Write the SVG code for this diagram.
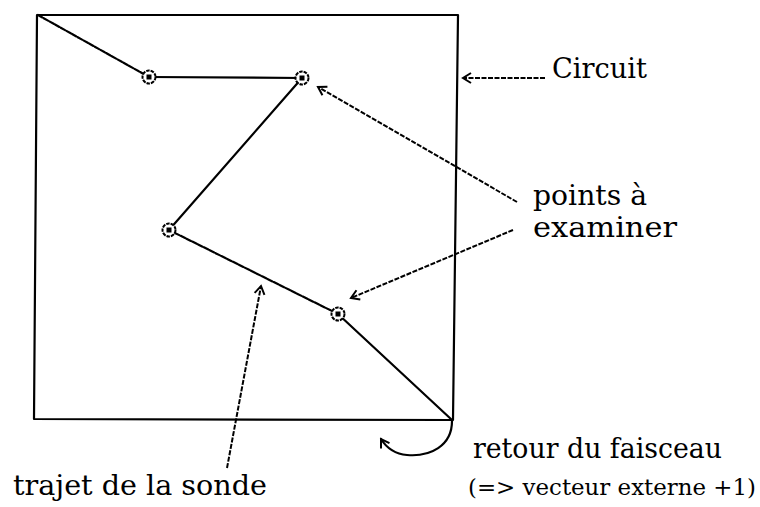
<svg xmlns="http://www.w3.org/2000/svg" width="760" height="507" viewBox="0 0 760 507">
<style>
.ln{fill:none;stroke:#000;stroke-width:2.2;stroke-linecap:round;stroke-linejoin:round}
.dsh{stroke-dasharray:5 1.5}
.arr{fill:none;stroke:#000;stroke-width:2;stroke-dasharray:5 1.5;marker-end:url(#ah)}
.t{font-family:"DejaVu Serif","Liberation Serif",serif;font-size:27px;fill:#000}
.ring{fill:#fff;stroke:#000;stroke-width:2;stroke-dasharray:3.5 1}
</style>
<defs>
<marker id="ah" markerUnits="userSpaceOnUse" markerWidth="16" markerHeight="16" refX="0" refY="0" viewBox="-10 -8 12 16" orient="auto" overflow="visible">
<path d="M-8,-5 L0,0 L-8,5" fill="none" stroke="#000" stroke-width="2"/>
</marker>
</defs>
<g id="circuit">
<path class="ln" d="M37,15 L458,15 L453,420 L34,419 Z"/>
</g>
<g id="connectors">
<path class="ln dsh" d="M38,15 L149,77"/>
<path class="ln" d="M149,77 L302,78"/>
<path class="ln" d="M302,78 L169,230"/>
<path class="ln dsh" d="M169,230 L338,314"/>
<path class="ln" d="M338,314 L452,420"/>
<path class="arr" d="M545,78 L463,78"/>
<path class="arr" d="M517,202 L318,87"/>
<path class="arr" d="M513,230 L351,298"/>
<path class="arr" d="M227,468 L261,286"/>
<path class="ln" marker-end="url(#ah)" d="M452,421 C452,446 430,457 407,455 C395,454 386,447 381,439"/>
</g>
<g id="n1"><circle class="ring" cx="149" cy="77" r="6.5"/><rect x="146.5" y="74.5" width="5" height="5"/></g>
<g id="n2"><circle class="ring" cx="302" cy="78" r="6.5"/><rect x="299.5" y="75.5" width="5" height="5"/></g>
<g id="n3"><circle class="ring" cx="169" cy="230" r="6.5"/><rect x="166.5" y="227.5" width="5" height="5"/></g>
<g id="n4"><circle class="ring" cx="338" cy="314" r="6.5"/><rect x="335.5" y="311.5" width="5" height="5"/></g>
<g id="labels">
<text class="t" x="552" y="78" textLength="95" lengthAdjust="spacingAndGlyphs">Circuit</text>
<text class="t" x="533" y="205" textLength="114" lengthAdjust="spacingAndGlyphs">points à</text>
<text class="t" x="533" y="237" textLength="144" lengthAdjust="spacingAndGlyphs">examiner</text>
<text class="t" x="13" y="495" textLength="254" lengthAdjust="spacingAndGlyphs">trajet de la sonde</text>
<text class="t" x="473" y="458" textLength="249" lengthAdjust="spacingAndGlyphs">retour du faisceau</text>
<text class="t" x="468" y="495" style="font-size:23px" textLength="288" lengthAdjust="spacingAndGlyphs">(=&gt; vecteur externe +1)</text>
</g>
</svg>
